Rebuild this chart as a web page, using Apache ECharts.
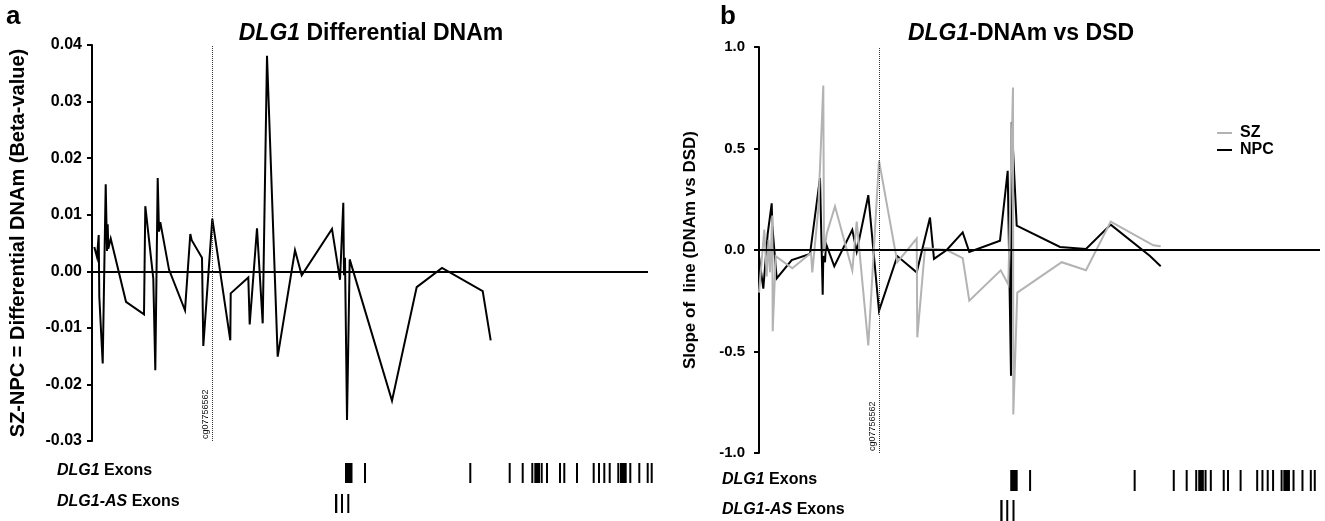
<!DOCTYPE html>
<html><head><meta charset="utf-8">
<script src="https://cdn.jsdelivr.net/npm/echarts/dist/echarts.min.js"></script>
<style>html,body{margin:0;padding:0;background:#fff}#c{width:1325px;height:521px}</style>
</head><body><div id="c"></div>
<script>
const FONT = '"Liberation Sans", Arial, Helvetica, sans-serif';

// ---- Panel a: differential DNAm (SZ - NPC) along DLG1 (relative position units) ----
const diffPos = [2.3, 5, 6.7, 7.3, 10.7, 13.7, 15, 15.7, 16.3, 18.7, 34, 52, 53.3, 61.3, 63.3, 65.7, 67, 68.3, 77, 93,
  98.3, 99.7, 110, 111.3, 120.3, 138.3, 138.7, 156.3, 157.7, 165, 170.7, 175, 185.7, 203, 209.7, 240, 248, 251.3, 252,
  253, 255, 257.7, 300, 324.7, 350, 390.7, 398.7];
const diffVal = [0.0043, 0.0025, 0.0064, -0.0045, -0.0163, 0.0154, 0.0036, 0.0083, 0.0040, 0.0058, -0.0054, -0.0076,
  0.0115, -0.0013, -0.0175, 0.0165, 0.0070, 0.0087, 0.0003, -0.0069, 0.0066, 0.0055, 0.0024, -0.0132, 0.0093, -0.0122,
  -0.0039, -0.0011, -0.0094, 0.0076, -0.0092, 0.0381, -0.0151, 0.0037, -0.0007, 0.0075, -0.0015, 0.0121, -0.0007,
  0.0024, -0.0263, 0.0021, -0.0229, -0.0028, 0.0006, -0.0035, -0.0122];

// ---- Panel b: slope of DNAm vs DSD ----
const npcPos = [0, 4.3, 8.7, 12.7, 13.3, 17.7, 32.7, 51, 61, 63.7, 64.3, 66, 67, 75.3, 93.3, 97.7, 109.3, 120, 138.3,
  157.7, 171, 175, 187.7, 203.7, 210.3, 241, 248.7, 252, 252.7, 257.7, 301, 327, 351.7, 391, 401.7];
const npcVal = [-0.03, -0.19, 0.08, 0.23, 0.12, -0.14, -0.05, -0.02, 0.355, -0.22, -0.03, -0.06, 0.03, -0.08, 0.10,
  -0.007, 0.27, -0.30, -0.03, -0.11, 0.16, -0.044, 0.0, 0.087, -0.01, 0.046, 0.39, -0.62, 0.63, 0.12, 0.015, 0.005,
  0.125, -0.03, -0.08];
const szPos = [0, 5.3, 7.7, 9.5, 11, 13.3, 13.7, 16.7, 33.3, 52, 53.3, 59.3, 64.3, 65, 67.7, 76, 93.3, 97.7, 109.3,
  120, 138.3, 157.7, 158.3, 166, 187.7, 203.7, 210.3, 241.7, 249.3, 254, 254.3, 258.3, 302.7, 327, 351.7, 394.3, 401.7];
const szVal = [-0.21, 0.10, -0.13, 0.05, -0.11, 0.17, -0.40, -0.03, -0.09, -0.015, -0.11, 0.20, 0.81, -0.015, 0.08,
  0.215, -0.10, 0.14, -0.47, 0.44, -0.06, 0.056, -0.43, 0.01, 0.0, -0.04, -0.25, -0.10, -0.17, 0.80, -0.81, -0.21,
  -0.06, -0.10, 0.14, 0.023, 0.018];

// ---- Exon tracks (start, end) in the same position units ----
const dlg1Exons = [[253, 260.5], [272, 274], [377.3, 379.3], [416.7, 418.3], [429.7, 431.7], [439.3, 441.3],
  [442.3, 448], [448.7, 450], [454, 456], [467, 469], [471.3, 473.3], [484, 486], [500.7, 502.7], [506, 508],
  [511.3, 513.3], [516.7, 518.7], [525.3, 527.3], [528, 534.7], [537.3, 539.3], [546.3, 548.3], [554.7, 556.7],
  [558.7, 560.7]];
const dlg1AsExons = [[243, 245.3], [249, 251], [255.3, 257.3]];

const probePos = 120;
const probeName = 'cg07756562';
const yTicksA = { min: -0.03, max: 0.04, step: 0.01 };
const yTicksB = { min: -1.0, max: 1.0, step: 0.5 };

const zip = (xs, ys) => xs.map((x, i) => [x, ys[i]]);

function exonItem(params, api) {
  const s = api.coord([api.value(0), 0]);
  const e = api.coord([api.value(1), 1]);
  let w = e[0] - s[0];
  if (w < 2) w = 2;
  return { type: 'rect', shape: { x: s[0], y: e[1], width: w, height: s[1] - e[1] }, style: { fill: '#000' } };
}

function refLines() {
  return {
    silent: true, symbol: 'none', animation: false,
    data: [
      { yAxis: 0, lineStyle: { color: '#000', width: 2, type: 'solid' }, label: { show: false } },
      { xAxis: probePos, lineStyle: { color: '#333', width: 1, type: [1, 1] },
        label: { show: true, formatter: probeName, position: 'insideStartTop', fontSize: 9, color: '#111',
          fontFamily: FONT, distance: 2 } }
    ]
  };
}

const yAxisCommon = {
  type: 'value',
  axisLine: { show: true, lineStyle: { color: '#000', width: 2 } },
  axisTick: { show: true, inside: false, length: 5, lineStyle: { color: '#000', width: 2 } },
  splitLine: { show: false },
  nameLocation: 'middle'
};

const titleRich = (size) => ({
  i: { fontStyle: 'italic', fontWeight: 'bold', fontSize: size, fontFamily: FONT, color: '#000' },
  n: { fontWeight: 'bold', fontSize: size, fontFamily: FONT, color: '#000' }
});
const mkTitle = (text, left, top, size, align) => ({
  text, left, top, padding: 0, textAlign: align || 'left',
  textStyle: { fontSize: size, fontWeight: 'bold', fontFamily: FONT, color: '#000', rich: titleRich(size) }
});

const chart = echarts.init(document.getElementById('c'), null, { renderer: 'canvas' });
chart.setOption({
  animation: false,
  backgroundColor: '#fff',
  title: [
    mkTitle('a', 6, 4, 26),
    mkTitle('b', 720, 4, 26),
    mkTitle('{i|DLG1}{n| Differential DNAm}', 371, 22, 23, 'center'),
    mkTitle('{i|DLG1}{n|-DNAm vs DSD}', 1021, 22, 23, 'center'),
    mkTitle('{i|DLG1}{n| Exons}', 57, 463, 16),
    mkTitle('{i|DLG1-AS}{n| Exons}', 57, 494, 16),
    mkTitle('{i|DLG1}{n| Exons}', 722, 472, 16),
    mkTitle('{i|DLG1-AS}{n| Exons}', 722, 502, 16)
  ],
  legend: {
    data: [{ name: 'SZ', icon: 'rect' }, { name: 'NPC', icon: 'rect' }],
    orient: 'vertical', left: 1217, top: 125, itemWidth: 15, itemHeight: 2, itemGap: 1, padding: 0,
    selectedMode: false,
    textStyle: { fontSize: 16, fontWeight: 'bold', fontFamily: FONT, color: '#000', padding: [0, 0, 0, 3] }
  },
  grid: [
    { left: 92, top: 45, width: 556, height: 396 },
    { left: 759, top: 47, width: 561, height: 406 },
    { left: 92, top: 463, width: 570, height: 20 },
    { left: 92, top: 494, width: 570, height: 19 },
    { left: 759, top: 470, width: 570, height: 21 },
    { left: 759, top: 500, width: 570, height: 21 }
  ],
  xAxis: [
    { type: 'value', gridIndex: 0, min: 0, max: 556, show: false },
    { type: 'value', gridIndex: 1, min: 0, max: 561, show: false },
    { type: 'value', gridIndex: 2, min: 0, max: 570, show: false },
    { type: 'value', gridIndex: 3, min: 0, max: 570, show: false },
    { type: 'value', gridIndex: 4, min: 0, max: 570, show: false },
    { type: 'value', gridIndex: 5, min: 0, max: 570, show: false }
  ],
  yAxis: [
    Object.assign({}, yAxisCommon, {
      gridIndex: 0, min: yTicksA.min, max: yTicksA.max, interval: yTicksA.step,
      axisLabel: { margin: 10, fontSize: 16, fontWeight: 'bold', fontFamily: FONT, color: '#000',
        formatter: v => v.toFixed(2) },
      name: 'SZ-NPC = Differential DNAm (Beta-value)', nameGap: 64,
      nameTextStyle: { fontSize: 20, fontWeight: 'bold', fontFamily: FONT, color: '#000' }
    }),
    Object.assign({}, yAxisCommon, {
      gridIndex: 1, min: yTicksB.min, max: yTicksB.max, interval: yTicksB.step,
      axisLabel: { margin: 14, fontSize: 15, fontWeight: 'bold', fontFamily: FONT, color: '#000',
        formatter: v => v.toFixed(1) },
      name: 'Slope of  line (DNAm vs DSD)', nameGap: 60,
      nameTextStyle: { fontSize: 17, fontWeight: 'bold', fontFamily: FONT, color: '#000' }
    }),
    { type: 'value', gridIndex: 2, min: 0, max: 1, show: false },
    { type: 'value', gridIndex: 3, min: 0, max: 1, show: false },
    { type: 'value', gridIndex: 4, min: 0, max: 1, show: false },
    { type: 'value', gridIndex: 5, min: 0, max: 1, show: false }
  ],
  series: [
    { name: 'diff', type: 'line', xAxisIndex: 0, yAxisIndex: 0, data: zip(diffPos, diffVal), showSymbol: false,
      symbol: 'none', silent: true, color: '#000',
      lineStyle: { color: '#000', width: 2, join: 'miter', miterLimit: 6 }, markLine: refLines() },
    { name: 'NPC', type: 'line', xAxisIndex: 1, yAxisIndex: 1, data: zip(npcPos, npcVal), showSymbol: false,
      symbol: 'none', silent: true, color: '#000',
      lineStyle: { color: '#000', width: 2, join: 'miter', miterLimit: 6 }, markLine: refLines() },
    { name: 'SZ', type: 'line', xAxisIndex: 1, yAxisIndex: 1, data: zip(szPos, szVal), showSymbol: false,
      symbol: 'none', silent: true, color: '#b3b3b3',
      lineStyle: { color: '#b3b3b3', width: 2, join: 'miter', miterLimit: 6 } },
    { type: 'custom', xAxisIndex: 2, yAxisIndex: 2, data: dlg1Exons, renderItem: exonItem, silent: true, clip: false },
    { type: 'custom', xAxisIndex: 3, yAxisIndex: 3, data: dlg1AsExons, renderItem: exonItem, silent: true, clip: false },
    { type: 'custom', xAxisIndex: 4, yAxisIndex: 4, data: dlg1Exons, renderItem: exonItem, silent: true, clip: false },
    { type: 'custom', xAxisIndex: 5, yAxisIndex: 5, data: dlg1AsExons, renderItem: exonItem, silent: true, clip: false }
  ]
});
</script>
</body></html>
